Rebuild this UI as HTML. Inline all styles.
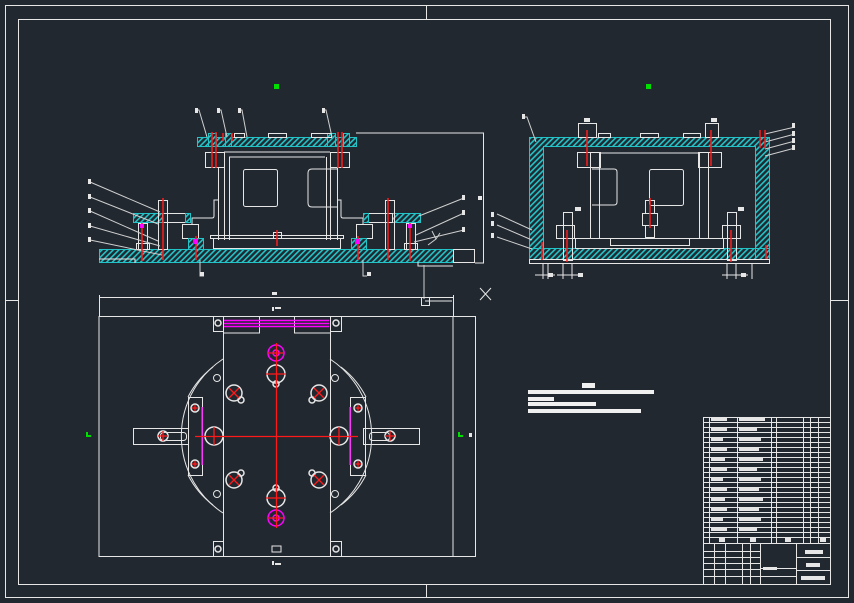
<!DOCTYPE html>
<html><head><meta charset="utf-8"><style>
html,body{margin:0;padding:0;background:#212830;}
svg{display:block}
</style></head><body>
<svg width="854" height="603" viewBox="0 0 854 603" xmlns="http://www.w3.org/2000/svg" font-family="Liberation Sans, sans-serif">
<defs>
<pattern id="h" width="4" height="4" patternUnits="userSpaceOnUse" patternTransform="rotate(45)">
<rect width="4" height="4" fill="#212830"/><rect width="1.6" height="4" fill="#22c4c8"/>
</pattern>
</defs>
<rect width="854" height="603" fill="#212830"/>
<g fill="none" stroke="#e6e6e6" stroke-width="1">
<rect x="5.5" y="5.5" width="843" height="592"/>
<rect x="18.5" y="19.5" width="812" height="565"/>
<path d="M426.5 5v14M426.5 584v13M5 300.5h13M830 300.5h18"/>
</g>
<rect x="274" y="84" width="5" height="5" fill="#00e000"/>
<rect x="646" y="84" width="5" height="5" fill="#00e000"/>

<!-- FRONT VIEW -->
<g stroke="#e6e6e6" stroke-width="1" fill="none">
<rect x="197.5" y="137.5" width="159" height="9" fill="url(#h)" stroke="#22c4c8"/>
<rect x="99.5" y="249.5" width="354" height="13" fill="url(#h)" stroke="#22c4c8"/>
<path d="M99 259h36v4" stroke="#e6e6e6"/>
<path d="M418 262v4h35" />
<rect x="453.5" y="249.5" width="21" height="13"/>
<path d="M483.5 133v130M356 133h128M475 263h9"/>
<rect x="205.5" y="152.5" width="19" height="15"/>
<rect x="330.5" y="152.5" width="19" height="15"/>
<path d="M218.5 167v73M337.5 167v73M224.5 152v88M330.5 152v88M224 152h106M229 157h96M229.5 157v83M326.5 157v83"/>
<rect x="243.5" y="169.5" width="34" height="37" rx="2"/>
<path d="M337 169h-25q-4 0-4 4v30q0 4 4 4h25"/>
<path d="M218 200h-4v16q0 2-2 2h-20v6M337 200h4v16q0 2 2 2h20v6"/>
<rect x="213.5" y="238.5" width="127" height="10"/>
<rect x="210.5" y="235.5" width="133" height="3"/>
<rect x="133.5" y="213.5" width="29" height="9" fill="url(#h)" stroke="#22c4c8"/>
<rect x="162.5" y="213.5" width="28" height="9"/>
<rect x="185.5" y="213.5" width="5" height="9" fill="url(#h)" stroke="#22c4c8"/>
<rect x="392.5" y="213.5" width="28" height="9" fill="url(#h)" stroke="#22c4c8"/>
<rect x="363.5" y="213.5" width="29" height="9"/>
<rect x="363.5" y="213.5" width="5" height="9" fill="url(#h)" stroke="#22c4c8"/>
<rect x="182.5" y="224.5" width="16" height="14"/>
<rect x="356.5" y="224.5" width="16" height="14"/>
<rect x="188.5" y="238.5" width="15" height="11" fill="url(#h)" stroke="#22c4c8"/>
<rect x="351.5" y="238.5" width="15" height="11" fill="url(#h)" stroke="#22c4c8"/>
<rect x="158.5" y="200.5" width="9" height="49"/>
<rect x="385.5" y="200.5" width="9" height="49"/>
<rect x="138.5" y="223.5" width="9" height="26"/>
<rect x="406.5" y="223.5" width="9" height="26"/>
<rect x="136.5" y="243.5" width="13" height="6"/>
<rect x="404.5" y="243.5" width="13" height="6"/>
<rect x="208.5" y="133.5" width="8" height="13" fill="url(#h)" stroke="#22c4c8"/>
<rect x="225.5" y="133.5" width="6" height="13" fill="url(#h)" stroke="#22c4c8"/>
<rect x="327.5" y="133.5" width="8" height="13" fill="url(#h)" stroke="#22c4c8"/>
<rect x="343.5" y="133.5" width="6" height="13" fill="url(#h)" stroke="#22c4c8"/>
<rect x="268.5" y="133.5" width="18" height="4"/>
<rect x="311.5" y="133.5" width="20" height="4"/>
<rect x="234.5" y="133.5" width="10" height="4"/>
<rect x="273.5" y="232.5" width="8" height="6"/>
<g stroke="#cfcfcf">
<path d="M90 182l70 30M90 197l68 27M90 211l68 30M90 226l70 20M90 240l72 15"/>
<path d="M464 198l-45 18M464 213l-48 22M464 230l-50 12"/>
<path d="M196 110h3l8 27M218 110h3l6 27M239 110h3l5 27M323 110h3l6 27"/>
<path d="M200 260v16h4M363 260v16h4M424 265v34"/>
<path d="M428 245l8-6 4-6M436 239l-4-8"/>
</g>
</g>
<g stroke="#ff1a1a" stroke-width="1.5">
<path d="M212 132v36M216 132v36M338 132v36M342 132v36M163 198v62M388 198v62M142 223v38M410 223v38M196 236v24M358 236v24M277 230v16M223 133v8M232 133v8"/>
</g>
<rect x="193" y="239" width="5" height="5" fill="#ff00ff"/>
<rect x="355" y="239" width="5" height="5" fill="#ff00ff"/>
<rect x="140" y="224" width="4" height="4" fill="#ff00ff"/>
<rect x="408" y="224" width="4" height="4" fill="#ff00ff"/>
<g fill="#e6e6e6">
<rect x="88" y="179" width="3" height="5"/><rect x="88" y="194" width="3" height="5"/><rect x="88" y="208" width="3" height="5"/><rect x="88" y="223" width="3" height="5"/><rect x="88" y="237" width="3" height="5"/>
<rect x="462" y="195" width="3" height="5"/><rect x="462" y="210" width="3" height="5"/><rect x="462" y="227" width="3" height="5"/>
<rect x="195" y="108" width="3" height="5"/><rect x="217" y="108" width="3" height="5"/><rect x="238" y="108" width="3" height="5"/><rect x="322" y="108" width="3" height="5"/>
<rect x="200" y="272" width="4" height="4"/><rect x="367" y="272" width="4" height="4"/>
<rect x="478" y="196" width="4" height="4"/>
<rect x="491" y="212" width="3" height="5"/><rect x="491" y="221" width="3" height="5"/><rect x="491" y="233" width="3" height="5"/>
</g>
<g stroke="#e6e6e6" fill="none">
<rect x="421.5" y="297.5" width="8" height="8"/>
<path d="M425 301h27M480 288l11 12M491 288l-11 12"/>
</g>

<!-- SIDE VIEW -->
<g stroke="#e6e6e6" fill="none" stroke-width="1">
<path d="M529.5 137.5h240v113h-14v-104h-212v104h-14z" fill="url(#h)" stroke="#22c4c8"/>
<rect x="543.5" y="248.5" width="212" height="11" fill="url(#h)" stroke="#22c4c8"/>
<rect x="529.5" y="248.5" width="14" height="11" fill="url(#h)" stroke="#22c4c8"/>
<rect x="755.5" y="248.5" width="14" height="11" fill="url(#h)" stroke="#22c4c8"/>
<rect x="529.5" y="259.5" width="240" height="4"/>
<rect x="578.5" y="123.5" width="18" height="14"/>
<rect x="705.5" y="123.5" width="13" height="14"/>
<rect x="577.5" y="152.5" width="23" height="15"/>
<rect x="698.5" y="152.5" width="23" height="15"/>
<path d="M590.5 153v85M708.5 153v85M599.5 153v85M699.5 153v85M599 153h100"/>
<rect x="649.5" y="169.5" width="34" height="36" rx="2"/>
<path d="M592 169h22q3 0 3 3v30q0 3-3 3h-22"/>
<rect x="575.5" y="238.5" width="148" height="10"/>
<rect x="610.5" y="238.5" width="79" height="7"/>
<rect x="563.5" y="212.5" width="9" height="48"/>
<rect x="727.5" y="212.5" width="9" height="48"/>
<rect x="556.5" y="225.5" width="18" height="13"/>
<rect x="722.5" y="225.5" width="18" height="13"/>
<rect x="642.5" y="213.5" width="15" height="12"/>
<rect x="645.5" y="200.5" width="9" height="13"/>
<rect x="645.5" y="225.5" width="9" height="12"/>
<rect x="640.5" y="133.5" width="18" height="4"/>
<rect x="598.5" y="133.5" width="12" height="4"/>
<rect x="683.5" y="133.5" width="17" height="4"/>
<path d="M543 263v16M548 263v16M563 263v16M572 263v16M727 263v16M736 263v16M752 263v16M535 275h20M557 275h26M722 275h26"/>
<g stroke="#cfcfcf">
<path d="M524 117h3l9 25M497 214l35 16M497 225l35 15M497 237l35 12M795 127l-30 7M795 134l-30 8M795 141l-30 8M795 148l-30 8"/>
</g>
</g>
<g stroke="#ff1a1a" stroke-width="1.5">
<path d="M587 130v36M711 130v36M567 230v32M731 230v32M650 198v30M542 242v18M760 130v18M765 130v18M766 245v14"/>
</g>
<g fill="#e6e6e6">
<rect x="522" y="114" width="3" height="5"/><rect x="792" y="123" width="3" height="5"/><rect x="792" y="131" width="3" height="5"/><rect x="792" y="138" width="3" height="5"/><rect x="792" y="145" width="3" height="5"/>
<rect x="584" y="118" width="6" height="4"/><rect x="711" y="118" width="6" height="4"/>
<rect x="575" y="207" width="6" height="4"/><rect x="738" y="207" width="6" height="4"/>
<rect x="548" y="273" width="5" height="4"/><rect x="578" y="273" width="5" height="4"/><rect x="741" y="273" width="5" height="4"/>
</g>

<!-- PLAN VIEW -->
<g stroke="#e6e6e6" fill="none" stroke-width="1">
<path d="M99.5 297.5h354M99.5 295v21M453.5 295v21M99 316.5h354v240h-354zM453 316.5h23M453 556.5h23M475.5 316v241"/>
<rect x="213.5" y="316.5" width="10" height="15"/>
<rect x="330.5" y="316.5" width="11" height="15"/>
<rect x="213.5" y="541.5" width="10" height="15"/>
<rect x="330.5" y="541.5" width="11" height="15"/>
<path d="M223.5 316v17h36v-17M294.5 316v17h36v-17M223.5 333v223M330.5 333v223"/>
<path d="M223 359A92 92 0 0 0 223 513M330 359A92 92 0 0 1 330 513"/>
<path d="M188 397A88 88 0 0 1 213 367M188 475A88 88 0 0 0 213 505M366 397A88 88 0 0 0 341 367M366 475A88 88 0 0 1 341 505"/>
<rect x="188.5" y="397.5" width="14" height="78"/>
<rect x="350.5" y="397.5" width="15" height="78"/>
<rect x="133.5" y="428.5" width="55" height="16"/>
<rect x="363.5" y="428.5" width="56" height="16"/>
<rect x="160.5" y="432.5" width="26" height="8" rx="3"/>
<rect x="369.5" y="432.5" width="20" height="8" rx="3"/>
<circle cx="217" cy="378" r="3.5"/><circle cx="335" cy="378" r="3.5"/><circle cx="217" cy="494" r="3.5"/><circle cx="335" cy="494" r="3.5"/>
<g stroke-width="1.5">
<circle cx="234" cy="393" r="8"/><circle cx="319" cy="393" r="8"/><circle cx="234" cy="480" r="8"/><circle cx="319" cy="480" r="8"/>
<circle cx="214" cy="436" r="9"/><circle cx="339" cy="436" r="9"/>
<circle cx="276" cy="374" r="9"/><circle cx="276" cy="498" r="9"/>
<circle cx="195" cy="408" r="4"/><circle cx="195" cy="464" r="4"/><circle cx="358" cy="408" r="4"/><circle cx="358" cy="464" r="4"/>
<circle cx="163" cy="436" r="5"/><circle cx="390" cy="436" r="5"/>
<circle cx="218" cy="323" r="3"/><circle cx="336" cy="323" r="3"/><circle cx="218" cy="549" r="3"/><circle cx="336" cy="549" r="3"/>
<circle cx="276" cy="384" r="3"/><circle cx="276" cy="488" r="3"/>
<circle cx="241" cy="400" r="3"/><circle cx="312" cy="400" r="3"/><circle cx="241" cy="473" r="3"/><circle cx="312" cy="473" r="3"/>
</g>
<path d="M272 546h9v6h-9z"/>
</g>
<g stroke="#ff00ff" fill="none" stroke-width="1.5">
<circle cx="276" cy="353" r="8"/><circle cx="276" cy="353" r="3"/>
<circle cx="276" cy="518" r="8"/><circle cx="276" cy="518" r="3"/>
<path d="M224 320.5h105M224 323.5h105M224 326.5h105M202 407v58M350 407v58"/>
</g>
<g stroke="#ff1a1a" stroke-width="1.3">
<path d="M195 436.5h163M276.5 343v185M268 353h16M268 518h16M266 374h20M266 498h20M214 427v18M339 427v18M229 388l10 10M239 388l-10 10M314 388l10 10M324 388l-10 10M229 475l10 10M239 475l-10 10M314 475l10 10M324 475l-10 10M158 436h10M385 436h10M163 431v10M390 431v10M195 405v6M192 408h6M358 405v6M355 408h6M195 461v6M192 464h6M358 461v6M355 464h6"/>
</g>
<g fill="#00e000"><rect x="86" y="432" width="2" height="5"/><rect x="86" y="435" width="5" height="2"/><rect x="458" y="432" width="2" height="5"/><rect x="458" y="435" width="5" height="2"/></g>
<g fill="#e6e6e6"><rect x="272" y="292" width="5" height="3"/><rect x="469" y="433" width="3" height="4"/><rect x="272" y="307" width="2" height="4"/><rect x="275" y="307" width="6" height="2"/><rect x="272" y="561" width="2" height="4"/><rect x="275" y="563" width="6" height="2"/></g>

<!-- NOTES -->
<g fill="#f0f0f0">
<rect x="582" y="383" width="13" height="5"/>
<rect x="528" y="390" width="126" height="4"/>
<rect x="528" y="397" width="26" height="4"/>
<rect x="528" y="402" width="68" height="4"/>
<rect x="528" y="409" width="113" height="4"/>
</g>

<!-- TITLE BLOCK -->
<g stroke="#e6e6e6" fill="none" stroke-width="1">
<rect x="703.5" y="417.5" width="127" height="167"/>
<path d="M703 422.5h127M703 427.5h127M703 432.5h127M703 437.5h127M703 442.5h127M703 447.5h127M703 452.5h127M703 457.5h127M703 462.5h127M703 467.5h127M703 472.5h127M703 477.5h127M703 482.5h127M703 487.5h127M703 492.5h127M703 497.5h127M703 502.5h127M703 507.5h127M703 512.5h127M703 517.5h127M703 522.5h127M703 527.5h127M703 532.5h127M703 537.5h127M703 543.5h127"/>
<path d="M709.5 417v127M737.5 417v127M771.5 417v127M776.5 417v127M803.5 417v127M810.5 417v127M818.5 417v127"/>
<path d="M760.5 543v41M796.5 543v41M796 557.5h34M796 570.5h34M703 551.5h57M703 557.5h57M703 563.5h57M703 569.5h57M703 576.5h57M714.5 543v41M725.5 543v41M742.5 543v41M750.5 543v41M760 568.5h36M760 576.5h36"/>
</g>
<g fill="#e6e6e6">
<rect x="711" y="418" width="16" height="3"/><rect x="711" y="428" width="16" height="3"/><rect x="711" y="438" width="12" height="3"/><rect x="711" y="448" width="16" height="3"/><rect x="711" y="458" width="14" height="3"/><rect x="711" y="468" width="16" height="3"/><rect x="711" y="478" width="12" height="3"/><rect x="711" y="488" width="16" height="3"/><rect x="711" y="498" width="14" height="3"/><rect x="711" y="508" width="16" height="3"/><rect x="711" y="518" width="12" height="3"/><rect x="711" y="528" width="16" height="3"/>
<rect x="739" y="418" width="26" height="3"/><rect x="739" y="428" width="18" height="3"/><rect x="739" y="438" width="22" height="3"/><rect x="739" y="448" width="20" height="3"/><rect x="739" y="458" width="24" height="3"/><rect x="739" y="468" width="18" height="3"/><rect x="739" y="478" width="22" height="3"/><rect x="739" y="488" width="20" height="3"/><rect x="739" y="498" width="24" height="3"/><rect x="739" y="508" width="20" height="3"/><rect x="739" y="518" width="22" height="3"/><rect x="739" y="528" width="18" height="3"/>
<rect x="719" y="538" width="6" height="4"/><rect x="750" y="538" width="6" height="4"/><rect x="785" y="538" width="6" height="4"/><rect x="820" y="538" width="6" height="4"/>
<rect x="805" y="550" width="18" height="4"/><rect x="806" y="563" width="14" height="4"/><rect x="801" y="576" width="24" height="4"/>
<rect x="763" y="567" width="14" height="3"/>
</g>
</svg>
</body></html>
